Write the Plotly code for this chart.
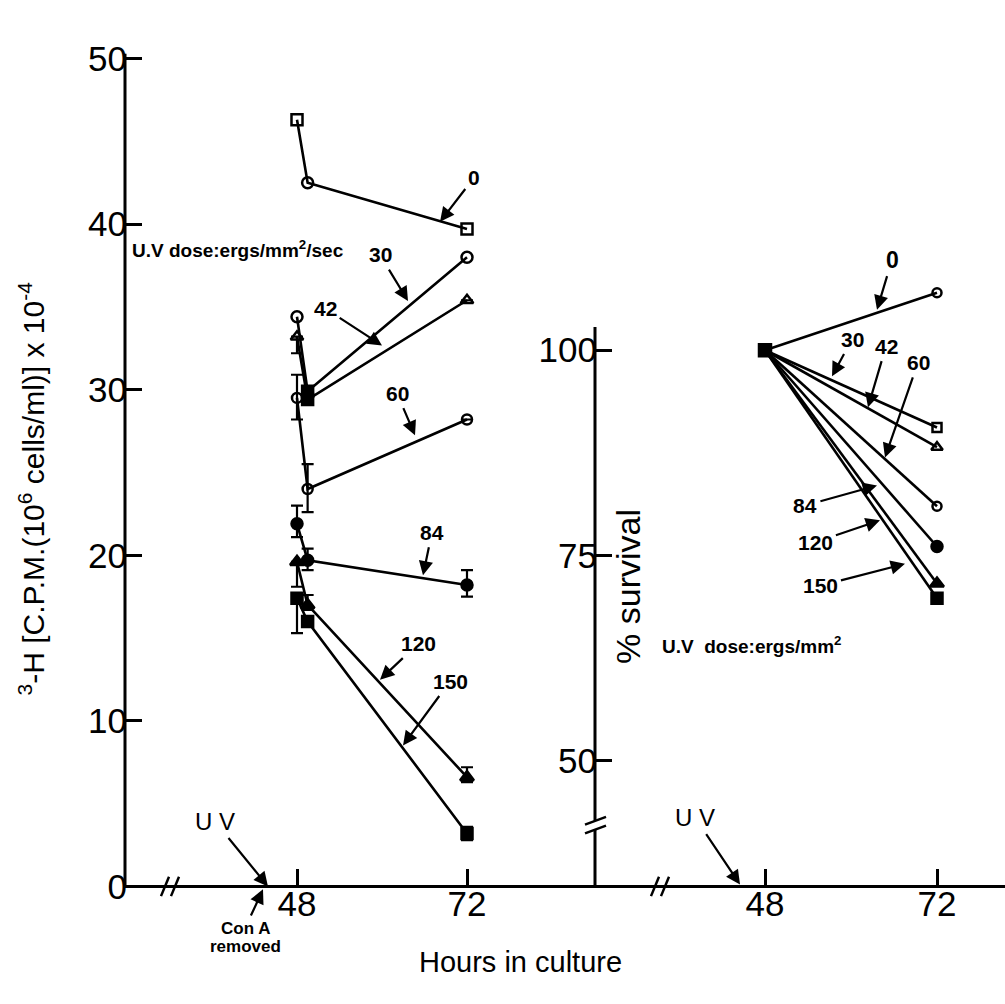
import plotly.graph_objects as go

W, H = 1005, 1004

# ---------------- data ----------------
hours_left = [48, 49.5, 72]
dose0_cpm = [46.3, 42.5, 39.7]
dose30_cpm = [34.4, 29.9, 38.0]
dose42_cpm = [33.2, 29.4, 35.4]
dose60_cpm = [29.5, 24.0, 28.2]
dose84_cpm = [21.9, 19.7, 18.2]
dose120_cpm = [19.6, 17.0, 6.6]
dose150_cpm = [17.4, 16.0, 3.2]

err60_plus = [1.4, 1.5, None]
err60_minus = [1.3, 1.4, None]
err84_plus = [1.1, 0.7, 0.9]
err84_minus = [0.8, 0.6, 0.7]
err120_plus = [None, 0.6, 0.6]
err120_minus = [1.5, 0.3, 0.3]
err150_plus = [0.2, None, 0.4]
err150_minus = [2.1, None, 0.4]
err42_minus = [1.0, None, None]

hours_right = [48, 72]
surv0 = [100, 107.0]
surv30 = [100, 90.6]
surv42 = [100, 88.2]
surv60 = [100, 81.0]
surv84 = [100, 76.1]
surv120 = [100, 71.6]
surv150 = [100, 69.8]

left_yticks = [0, 10, 20, 30, 40, 50]
right_yticks = [50, 75, 100]
x_ticks = [48, 72]

FONT = "Liberation Sans Narrow, Liberation Sans, Arial, sans-serif"
BFONT = "Liberation Sans, Arial, sans-serif"

fig = go.Figure()

def left_trace(y, symbol, size=11, ep=None, em=None):
    kw = {}
    if ep is not None or em is not None:
        kw["error_y"] = dict(type="data", symmetric=False,
                             array=ep if ep is not None else [None]*len(y),
                             arrayminus=em if em is not None else [None]*len(y),
                             color="black", thickness=2.2, width=6)
    fig.add_trace(go.Scatter(x=hours_left, y=y, mode="lines+markers",
                             line=dict(color="black", width=2.6),
                             marker=dict(symbol=symbol, size=size, color="black",
                                         line=dict(color="black", width=2.5)),
                             xaxis="x", yaxis="y", showlegend=False, cliponaxis=False, **kw))

left_trace(dose0_cpm, ["square-open", "circle-open", "square-open"])
left_trace(dose30_cpm, ["circle-open", "square", "circle-open"])
left_trace(dose42_cpm, ["triangle-up-open", "square", "triangle-up-open"], em=err42_minus)
left_trace(dose60_cpm, "circle-open", 10, err60_plus, err60_minus)
left_trace(dose84_cpm, "circle", 11, err84_plus, err84_minus)
left_trace(dose120_cpm, "triangle-up", 12, err120_plus, err120_minus)
left_trace(dose150_cpm, "square", 11, err150_plus, err150_minus)

def right_trace(y, symbol, size=10):
    fig.add_trace(go.Scatter(x=hours_right, y=y, mode="lines+markers",
                             line=dict(color="black", width=2.6),
                             marker=dict(symbol=["square", symbol], size=size, color="black",
                                         line=dict(color="black", width=2.5)),
                             xaxis="x2", yaxis="y2", showlegend=False, cliponaxis=False))

right_trace(surv0, "circle-open", 9)
right_trace(surv30, "square-open", 9)
right_trace(surv42, "triangle-up-open", 10)
right_trace(surv60, "circle-open", 9)
right_trace(surv84, "circle", 11)
right_trace(surv120, "triangle-up", 12)
right_trace(surv150, "square", 11)

# ---------------- axes geometry (pixels) ----------------
Y0 = 902          # x-axis baseline
XL = 125          # left y-axis
XR = 595          # right y-axis
YT_L = 40         # top of left y-axis
YT_R = 323        # top of right y-axis

def fx(px):
    return px / W

def fy(py):
    return 1 - py / H

lx_per = (467 - 297) / 24
ly_per = 17.14
x_range_l = [48 + (XL - 297) / lx_per, 48 + (XR - 297) / lx_per]
y_range_l = [0, (Y0 - YT_L) / ly_per]
rx_per = (937 - 765) / 24
ry_per = 8.5
x_range_r = [48 + (XR - 765) / rx_per, 48 + (W - 765) / rx_per]
y_range_r = [100 - (Y0 - 347) / ry_per, 100 + (347 - YT_L) / ry_per]

axcommon = dict(showline=False, showgrid=False, zeroline=False, ticks="inside",
                ticklen=17, tickwidth=2.5, tickcolor="black",
                tickfont=dict(family=FONT, size=35, color="black"))

fig.update_layout(
    width=W, height=H, margin=dict(l=0, r=0, t=0, b=0),
    paper_bgcolor="white", plot_bgcolor="white",
    xaxis=dict(domain=[fx(XL), fx(XR)], range=x_range_l, tickvals=x_ticks,
               anchor="y", ticklabelstandoff=-6, **axcommon),
    yaxis=dict(domain=[fy(Y0), fy(YT_L)], range=y_range_l, tickvals=left_yticks,
               anchor="x", ticklabelstandoff=-3, **axcommon),
    xaxis2=dict(domain=[fx(XR), 1], range=x_range_r, tickvals=x_ticks,
                anchor="y2", ticklabelstandoff=-6, **axcommon),
    yaxis2=dict(domain=[fy(Y0), fy(YT_L)], range=y_range_r, tickvals=right_yticks,
                anchor="x2", ticklabelstandoff=-3, **axcommon),
)

# axis lines
shapes = []
LW = 3
shapes.append(dict(type="line", xref="paper", yref="paper", x0=fx(XL), x1=fx(XL),
                   y0=fy(Y0), y1=fy(YT_L), line=dict(color="black", width=LW)))
shapes.append(dict(type="line", xref="paper", yref="paper", x0=fx(XL), x1=1,
                   y0=fy(Y0), y1=fy(Y0), line=dict(color="black", width=LW)))
shapes.append(dict(type="line", xref="paper", yref="paper", x0=fx(XR), x1=fx(XR),
                   y0=fy(Y0), y1=fy(YT_R), line=dict(color="black", width=LW)))

def brk_x(cx):
    for d in (-5, 5):
        shapes.append(dict(type="line", xref="paper", yref="paper",
                           x0=fx(cx + d - 4), x1=fx(cx + d + 4),
                           y0=fy(Y0 + 10), y1=fy(Y0 - 10),
                           line=dict(color="black", width=2.5)))

brk_x(170)
brk_x(660)
shapes.append(dict(type="line", xref="paper", yref="paper", x0=fx(XR), x1=fx(XR),
                   y0=fy(843), y1=fy(834), line=dict(color="white", width=5)))
for d in (-4, 5):
    shapes.append(dict(type="line", xref="paper", yref="paper",
                       x0=fx(XR - 10), x1=fx(XR + 11),
                       y0=fy(838 + d + 4), y1=fy(838 + d - 4),
                       line=dict(color="black", width=2.5)))

fig.update_layout(shapes=shapes)

# ---------------- annotations ----------------
ann = []

def arrow_label(text, lx, ly, tx, ty, size=21):
    ann.append(dict(xref="paper", yref="paper", x=fx(tx), y=fy(ty),
                    ax=lx - tx, ay=ly - ty, text=text, showarrow=True,
                    arrowhead=2, arrowsize=1.3, arrowwidth=2.2, arrowcolor="black",
                    standoff=0, startstandoff=2,
                    font=dict(family=BFONT, size=size, color="black")))

def label(text, x, y, size=18, angle=0, family=BFONT, xanchor="center"):
    ann.append(dict(xref="paper", yref="paper", x=fx(x), y=fy(y), text=text,
                    showarrow=False, textangle=angle, xanchor=xanchor, yanchor="middle",
                    font=dict(family=family, size=size, color="black")))

# left panel
arrow_label("<b>0</b>", 474, 170, 440, 214)
arrow_label("<b>30</b>", 380, 250, 408, 296)
arrow_label("<b>42</b>", 325, 305, 382, 342)
arrow_label("<b>60</b>", 397, 393, 415, 435)
arrow_label("<b>84</b>", 432, 537, 423, 580)
arrow_label("<b>120</b>", 418, 652, 380, 688)
arrow_label("<b>150</b>", 450, 692, 403, 756)
label("<b>U.V dose:ergs/mm<sup>2</sup>/sec</b>", 130, 242, 19, xanchor="left")
arrow_label("U V", 215, 837, 268, 902, size=24)
arrow_label("<b>Con A</b>", 245, 944, 263, 905, size=17)
label("<b>removed</b>", 245, 964, 17)

# right panel
arrow_label("<b>0</b>", 892, 255, 877, 305, size=23)
arrow_label("<b>30</b>", 852, 337, 832, 374)
arrow_label("<b>42</b>", 886, 345, 868, 406)
arrow_label("<b>60</b>", 918, 363, 885, 458)
arrow_label("<b>84</b>", 805, 507, 877, 487)
arrow_label("<b>120</b>", 815, 545, 880, 523)
arrow_label("<b>150</b>", 820, 590, 905, 568)
label("<b>U.V  dose:ergs/mm<sup>2</sup></b>", 660, 652, 19, xanchor="left")
arrow_label("U V", 695, 833, 740, 900, size=24)

# axis titles
label("% survival", 628, 592, 34, angle=-90, family=FONT)
label("<sup>3</sup>-H [C.P.M.(10<sup>6</sup> cells/ml)] x 10<sup>-4</sup>", 32, 490, 30, angle=-90, family=FONT)
label("Hours in culture", 520, 980, 29, family=FONT)

fig.update_layout(annotations=ann)

fig.write_html("out.html")
